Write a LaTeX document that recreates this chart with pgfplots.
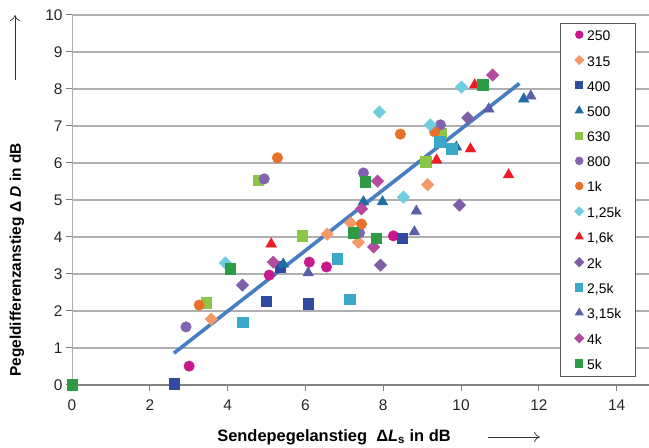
\documentclass[border=0pt]{standalone}
\usepackage{fontspec}
\setmainfont{Liberation Sans}
\usepackage{pgfplots}
\pgfplotsset{compat=1.18}
\usetikzlibrary{arrows.meta}
\definecolor{c250}{RGB}{200,25,140}
\definecolor{c315}{RGB}{245,152,102}
\definecolor{c400}{RGB}{46,75,160}
\definecolor{c500}{RGB}{30,110,165}
\definecolor{c630}{RGB}{140,198,70}
\definecolor{c800}{RGB}{128,100,176}
\definecolor{c1k}{RGB}{232,112,40}
\definecolor{c125k}{RGB}{110,205,222}
\definecolor{c16k}{RGB}{237,28,36}
\definecolor{c2k}{RGB}{126,95,165}
\definecolor{c25k}{RGB}{58,168,200}
\definecolor{c315k}{RGB}{90,95,170}
\definecolor{c4k}{RGB}{180,75,160}
\definecolor{c5k}{RGB}{45,155,70}
\definecolor{ctrend}{RGB}{70,125,195}
\definecolor{gridc}{RGB}{175,175,175}
\definecolor{axisc}{RGB}{130,130,130}
\begin{document}
\begin{tikzpicture}[x=1bp,y=1bp]
\useasboundingbox (0,0) rectangle (649,448);
\begin{axis}[
  at={(72bp,63bp)}, anchor=south west,
  scale only axis, width=577bp, height=370bp,
  xmin=0, xmax=14.83, ymin=0, ymax=10,
  axis lines*=left,
  xtick={0,2,...,14}, ytick={0,1,...,10},
  tick align=outside, major tick length=6bp,
  ymajorgrids, grid style={line width=1.2bp, color=gridc},
  x axis line style={line width=2bp, color=axisc},
  y axis line style={line width=1bp, color=gridc},
  tick style={color=axisc, line width=1bp},
  ticklabel style={font=\fontsize{15.5}{15.5}\selectfont, color=black!85},
  xticklabel style={yshift=-5bp},
  /pgf/number format/assume math mode=true,
  clip=false,
  circ/.style={mark=*, mark size=5.3bp},
  sq/.style={mark=square*, mark size=5.3bp},
  dia/.style={mark=square*, mark size=4.4bp, mark options={rotate=45}},
  tri/.style={mark=triangle*, mark size=6.2bp},
  legend image code/.code={\draw[#1, /tikz/mark size=0.7*\pgfplotmarksize] plot coordinates {(0bp,1bp)};},
  legend style={at={(0.977,0.978)}, anchor=north east, draw={rgb,255:red,90;green,90;blue,90}, line width=1bp, fill=white,
    font=\fontsize{14}{14}\selectfont, inner xsep=14bp, inner ysep=7bp, row sep=15.1bp,
    nodes={inner sep=0pt, text height=10bp, text depth=0bp},
    /tikz/every odd column/.style={column sep=3.5bp}},
  legend cell align=left,
]
\addplot[only marks, circ, color=c250] coordinates {(3.01,0.51)(5.07,2.97)(6.10,3.32)(6.54,3.19)(8.26,4.03)};
\addlegendentry{250}
\addplot[only marks, dia, color=c315] coordinates {(3.58,1.78)(6.56,4.08)(7.16,4.38)(7.36,3.86)(9.14,5.41)};
\addlegendentry{315}
\addplot[only marks, sq, color=c400] coordinates {(2.63,0.03)(4.99,2.27)(5.35,3.19)(6.07,2.19)(8.49,3.97)};
\addlegendentry{400}
\addplot[only marks, tri, color=c500] coordinates {(5.43,3.27)(7.49,4.95)(7.98,4.95)(9.88,6.43)(11.61,7.73)};
\addlegendentry{500}
\addplot[only marks, sq, color=c630] coordinates {(3.45,2.22)(4.79,5.54)(5.92,4.03)(9.09,6.03)(9.47,6.81)};
\addlegendentry{630}
\addplot[only marks, circ, color=c800] coordinates {(2.93,1.57)(4.94,5.57)(7.39,4.11)(7.49,5.73)(9.47,7.03)};
\addlegendentry{800}
\addplot[only marks, circ, color=c1k] coordinates {(3.27,2.16)(5.28,6.14)(7.44,4.35)(8.44,6.78)(9.32,6.84)};
\addlegendentry{1k}
\addplot[only marks, dia, color=c125k] coordinates {(3.94,3.30)(7.90,7.38)(8.52,5.08)(9.21,7.03)(10.01,8.05)};
\addlegendentry{1,25k}
\addplot[only marks, tri, color=c16k] coordinates {(5.12,3.81)(9.37,6.08)(10.24,6.38)(10.35,8.11)(11.22,5.68)};
\addlegendentry{1,6k}
\addplot[only marks, dia, color=c2k] coordinates {(4.38,2.70)(7.93,3.24)(9.96,4.86)(10.17,7.22)};
\addlegendentry{2k}
\addplot[only marks, sq, color=c25k] coordinates {(4.38,1.70)(6.82,3.41)(7.13,2.32)(9.45,6.57)(9.76,6.38)};
\addlegendentry{2,5k}
\addplot[only marks, tri, color=c315k] coordinates {(6.07,3.03)(8.80,4.14)(8.85,4.70)(10.71,7.46)(11.79,7.81)};
\addlegendentry{3,15k}
\addplot[only marks, dia, color=c4k] coordinates {(5.17,3.32)(7.44,4.76)(7.75,3.73)(7.85,5.51)(10.81,8.38)};
\addlegendentry{4k}
\addplot[only marks, sq, color=c5k] coordinates {(0,0)(4.07,3.14)(7.23,4.11)(7.54,5.49)(7.82,3.97)(10.55,8.11)};
\addlegendentry{5k}
\addplot[no marks, line width=3.6bp, color=ctrend, forget plot] coordinates {(2.62,0.86)(11.5,8.15)};
\end{axis}
\node[font=\bfseries\fontsize{16.5}{16.5}\selectfont] at (334,11) {Sendepegelanstieg\ \ Δ\textit{L}\textsubscript{s} in dB};
\draw[-{To[length=6bp,width=10bp]}, line width=0.7bp, black!80] (488,11) -- (540,11);
\node[font=\bfseries\fontsize{15.5}{15.5}\selectfont, rotate=90] at (17,188) {Pegeldifferenzanstieg Δ \textit{D} in dB};
\draw[-{To[length=6bp,width=10bp]}, line width=0.7bp, black!80] (15,368) -- (15,433);
\end{tikzpicture}
\end{document}
